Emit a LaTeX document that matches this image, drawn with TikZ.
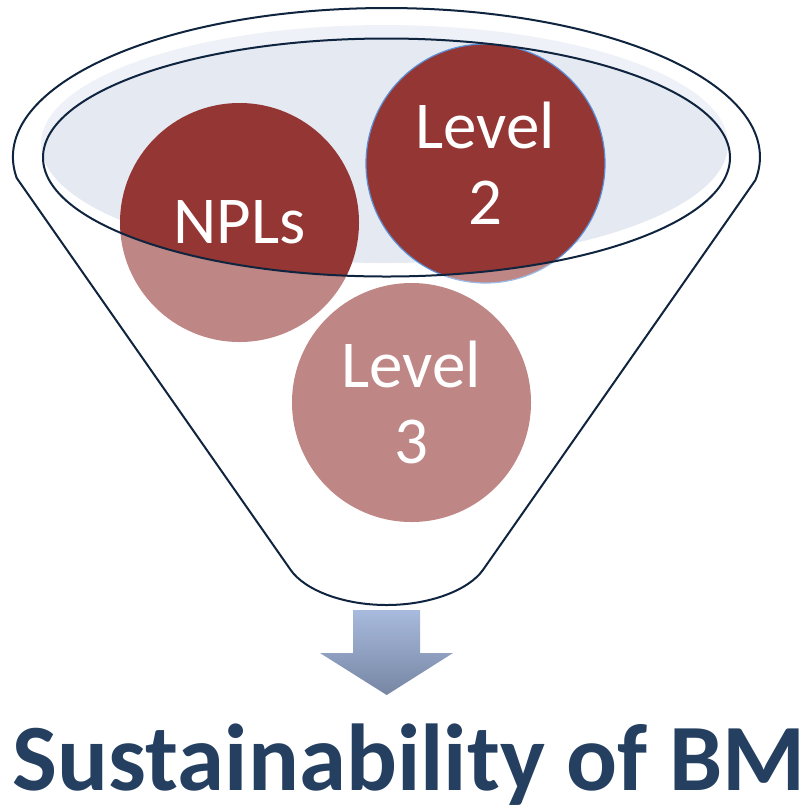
\documentclass[tikz,border=0pt]{standalone}
\usepackage{fontspec}
\setmainfont{Carlito}

\definecolor{ballred}{HTML}{943634}
\definecolor{rimline}{HTML}{0F243E}
\definecolor{liquid}{HTML}{E4E9F2}
\definecolor{titleblue}{HTML}{243F60}
\definecolor{arrowtop}{HTML}{A8BADD}
\definecolor{arrowbot}{HTML}{7686A3}
\definecolor{ringblue}{HTML}{5B8FD8}

% outline of the funnel: rim arc, two sides, rounded spout
\newcommand{\funneloutline}{(16.7,-178) arc[start angle=188.1, end angle=-8.9, x radius=373.5, y radius=149]
    -- (482.9,-570) .. controls (468.7,-590) and (430,-605) .. (386.7,-605)
    .. controls (343,-605) and (304.7,-590) .. (290.7,-570) -- cycle}

\begin{document}
\begin{tikzpicture}[x=1pt, y=1pt, thick]
        \tikzstyle{ball}=[circle, fill=ballred, text=white, minimum size=239pt, inner sep=0pt,
            align=center, font=\fontsize{67}{76}\selectfont]
        \useasboundingbox (0,0) rectangle (810,-807);

        % Liquid surface
        \fill[liquid] (384.5,-144) ellipse[x radius=343.5, y radius=119];

        % Balls
        \node[ball] (npl) at (239.5,-222.5) {NPLs};
        \node[ball, draw=ringblue, line width=1.2pt] (lvtwo) at (485.5,-163.5) {Level\\2};
        \node[ball] (lvthree) at (411.5,-402.5) {Level\\3};

        % Funnel body, seen through
        \fill[white, fill opacity=0.4, even odd rule] \funneloutline
            (386.5,-157.5) ellipse[x radius=343.5, y radius=119];

        % Funnel lines
        \draw[rimline, line width=2pt, line join=round] \funneloutline;
        \draw[rimline, line width=2pt] (386.5,-157.5) ellipse[x radius=343.5, y radius=119];

        % Down arrow
        \shade[top color=arrowtop, bottom color=arrowbot]
            (353,-610) -- (420,-610) -- (420,-653) -- (453,-653) -- (386.7,-695)
            -- (320,-653) -- (353,-653) -- cycle;

        % Caption
        \node[anchor=base, text=titleblue, font=\fontsize{95}{100}\selectfont\bfseries]
            (title) at (409,-790) {Sustainability of BM};
        \end{tikzpicture}
\end{document}
